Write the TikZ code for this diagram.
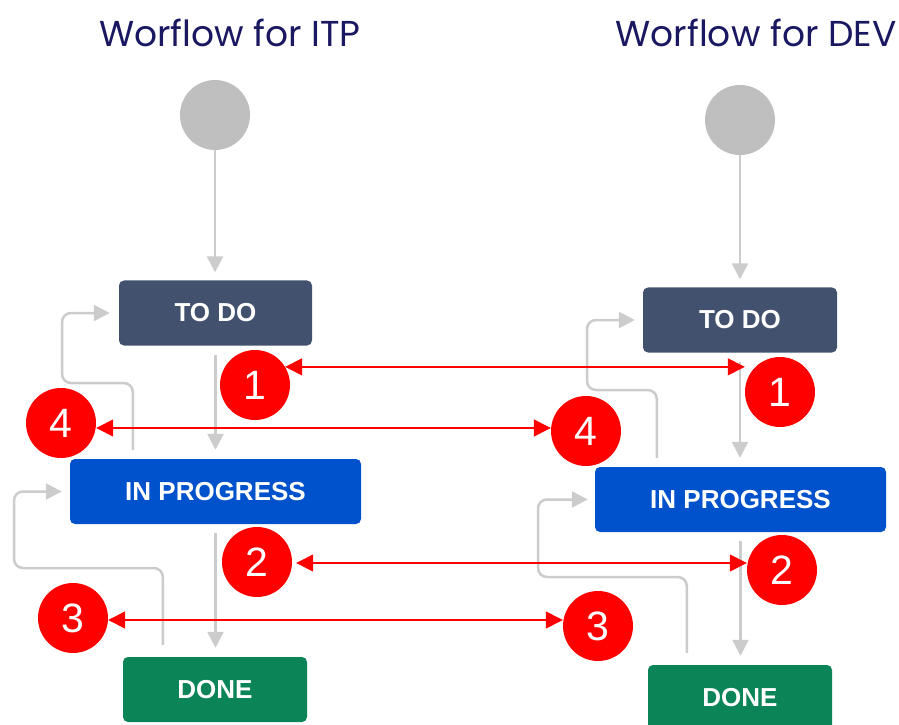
\documentclass[tikz,border=0pt]{standalone}
\usepackage{fontspec}
\setmainfont{Liberation Sans}
\newfontfamily\titlefont{Poppins}
\usetikzlibrary{arrows.meta}

\definecolor{titleblue}{HTML}{1B1862}
\definecolor{todocol}{HTML}{42526E}
\definecolor{ipcol}{HTML}{0052CC}
\definecolor{donecol}{HTML}{0B8457}
\definecolor{flowgray}{HTML}{CCCCCC}
\definecolor{startgray}{HTML}{BFBFBF}
\definecolor{markred}{HTML}{FF0000}

\tikzset{
  heading/.style={text=titleblue, font=\titlefont\fontsize{36}{40}\selectfont, inner sep=0},
  startdot/.style={circle, fill=startgray, minimum size=70pt, inner sep=0},
  status/.style={rounded corners=5pt, text=white, font=\bfseries\fontsize{26}{30}\selectfont,
                 minimum height=65pt, inner sep=0},
  flow/.style={draw=flowgray, line width=2.5pt,
               -{Triangle[length=16pt,width=16pt,fill=flowgray]}},
  loopflow/.style={flow, rounded corners=9pt},
  marker/.style={circle, fill=markred, text=white, minimum size=70pt, inner sep=0,
                 font=\fontsize{41}{44}\selectfont},
  link/.style={draw=markred, line width=1.4pt,
               {Triangle[length=17pt,width=17pt]}-{Triangle[length=17pt,width=17pt]}}
}

\begin{document}
\begin{tikzpicture}[x=1pt,y=1pt]
  \clip (0,0) rectangle (899,724);
  \fill[white] (0,0) rectangle (899,724);

  % headings
  \node[heading] (headL) at (230,691) {Worflow for ITP};
  \node[heading] (headR) at (756,691) {Worflow for DEV};

  % ITP workflow
  \node[startdot] (startL) at (215,609) {};
  \node[status, fill=todocol, minimum width=193pt] (todoL) at (215.5,411) {TO DO};
  \node[status, fill=ipcol, minimum width=291pt] (ipL) at (215.5,232.5) {IN PROGRESS};
  \node[status, fill=donecol, minimum width=184pt] (doneL) at (215,34.5) {DONE};

  \draw[flow, shorten >=8pt] (startL.south) -- (startL.south |- todoL.north);
  \draw[flow, shorten <=9pt, shorten >=9pt] (todoL.south) -- (todoL.south |- ipL.north);
  \draw[flow, shorten <=9pt, shorten >=9pt] (ipL.south) -- (ipL.south |- doneL.north);
  \draw[loopflow, shorten >=9pt] ([xshift=63pt,yshift=9pt]ipL.north west) |- (62,341) |- (todoL.west);
  \draw[loopflow, shorten >=8pt] ([xshift=40pt,yshift=12pt]doneL.north west) |- (14,156) |- (ipL.west);

  % DEV workflow
  \node[startdot] (startR) at (740,604) {};
  \node[status, fill=todocol, minimum width=194pt] (todoR) at (740,404) {TO DO};
  \node[status, fill=ipcol, minimum width=291pt] (ipR) at (740.5,224.5) {IN PROGRESS};
  \node[status, fill=donecol, minimum width=184pt] (doneR) at (740,26.5) {DONE};

  \draw[flow, shorten >=8pt] (startR.south) -- (startR.south |- todoR.north);
  \draw[flow, shorten <=9pt, shorten >=9pt] (todoR.south) -- (todoR.south |- ipR.north);
  \draw[flow, shorten <=9pt, shorten >=9pt] (ipR.south) -- (ipR.south |- doneR.north);
  \draw[loopflow, shorten >=8pt] ([xshift=62pt,yshift=9pt]ipR.north west) |- (587,334) |- (todoR.west);
  \draw[loopflow, shorten >=7pt] ([xshift=39pt,yshift=12pt]doneR.north west) |- (538,147) |- (ipR.west);

  % numbered markers
  \node[marker] (m1L) at (255,339) {1};
  \node[marker] (m4L) at (61,301) {4};
  \node[marker] (m2L) at (257,162) {2};
  \node[marker] (m3L) at (73,106) {3};
  \node[marker] (m1R) at (780,332) {1};
  \node[marker] (m4R) at (586,293) {4};
  \node[marker] (m2R) at (782,154) {2};
  \node[marker] (m3R) at (598,98) {3};

  % levels of the linking arrows
  \coordinate (lv1) at (0,357);
  \coordinate (lv4) at (0,296);
  \coordinate (lv2) at (0,161);
  \coordinate (lv3) at (0,104);

  \draw[link] (m1L.31) -- (m1L.31 -| m1R.west);
  \draw[link] (m4L.east |- lv4) -- (m4R.west |- lv4);
  \draw[link] ([xshift=4pt]m2L.east |- lv2) -- (m2R.west |- lv2);
  \draw[link] (m3L.east |- lv3) -- (m3R.west |- lv3);
\end{tikzpicture}
\end{document}
